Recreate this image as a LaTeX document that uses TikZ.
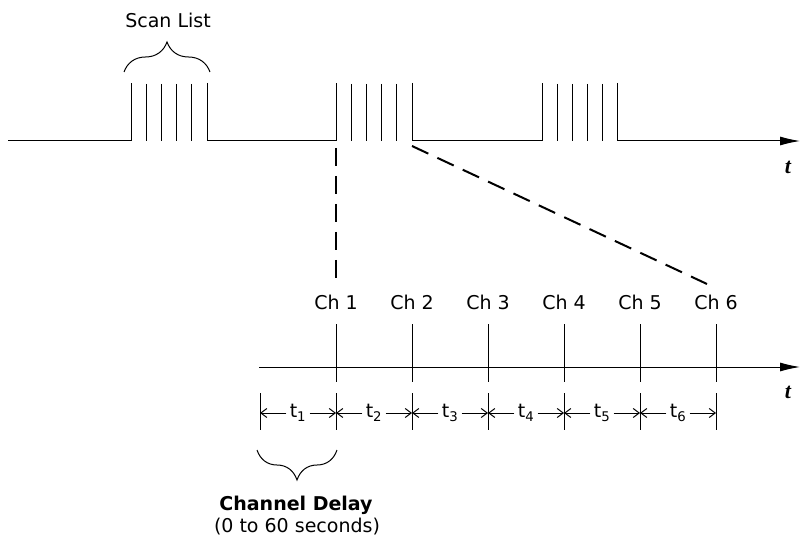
\documentclass[tikz,border=0pt]{standalone}
\usepackage{fontspec}
\setmainfont{DejaVu Sans}
\newfontfamily\timefont{Liberation Serif}
\usetikzlibrary{arrows.meta,decorations.pathreplacing}
\begin{document}
\begin{tikzpicture}
    [ x=1pt, y=-1pt,
      font=\fontsize{19}{22}\selectfont,
      pulse/.style = {line width=1pt},
      axis/.style = {line width=1pt, -{Latex[length=20pt,width=9pt]}},
      link/.style = {line width=2pt, dash pattern=on 18pt off 10pt},
      brace-line/.style = {line width=1pt, decorate,
        decoration={brace, amplitude=30pt}},
      dim-line/.style = {line width=1pt, -{Straight Barb[length=6pt,width=9pt]}},
      ch-node/.style = {inner sep=2pt},
      t-label/.style = {font=\fontsize{22}{24}\selectfont\timefont\bfseries\itshape}]
  \useasboundingbox (0,0) rectangle (800,537);
  % scan bursts
  \foreach \x in {131,336,542}
    \foreach \k in {1,...,4}
      \draw [pulse] (\x+15.2*\k,84) -- (\x+15.2*\k,141);
  \draw [pulse] (8,141) -| (131,83);
  \draw [pulse] (207,83) |- (336,141) -- (336,83);
  \draw [pulse] (412,83) |- (542,141) -- (542,83);
  \draw [axis] (617,83) |- (800,141);
  \node [t-label] (t-top) at (788,167) {t};
  \coordinate (burst2-rise) at (336,148);
  \coordinate (burst2-fall) at (412,146);
  \node (scan) at (168,20) {Scan List};
  \draw [brace-line] (124,72) -- (210,72);
  % channels
  \foreach \i [evaluate=\i as \x using 260+76*\i] in {1,...,6}
    \node [ch-node] (ch\i) at (\x,302) {Ch \i};
  \coordinate (ch6-top) at (707,284);
  \draw [link, shorten >=6pt] (burst2-rise) -- (ch1.north);
  \draw [link] (burst2-fall) -- (ch6-top);
  \draw [axis] (259,367) -- (800,367);
  \node [t-label] (t-bottom) at (788,392) {t};
  \foreach \i in {1,...,6}
    \draw [pulse] (ch\i |- 0,324) -- (ch\i |- 0,382);
  % delays
  \foreach \i in {0,...,6}
    \coordinate (d\i) at (260+76*\i,413);
  \foreach \i in {0,...,6}
    \draw [pulse] ([yshift=20pt]d\i) -- ([yshift=-17pt]d\i);
  \foreach \i [remember=\i as \prev (initially 0)] in {1,...,6} {
    \node (t\i) at (222+76*\i,413) {t\textsubscript{\i}};
    \draw [dim-line] (t\i) -- (d\prev);
    \draw [dim-line] (t\i) -- (d\i);
  }
  \draw [brace-line] (337,450) -- (257,450);
  \node (delay) at (296,505) {\bfseries Channel Delay};
  \node (delay-range) at (297,527) {(0 to 60 seconds)};
\end{tikzpicture}
\end{document}
